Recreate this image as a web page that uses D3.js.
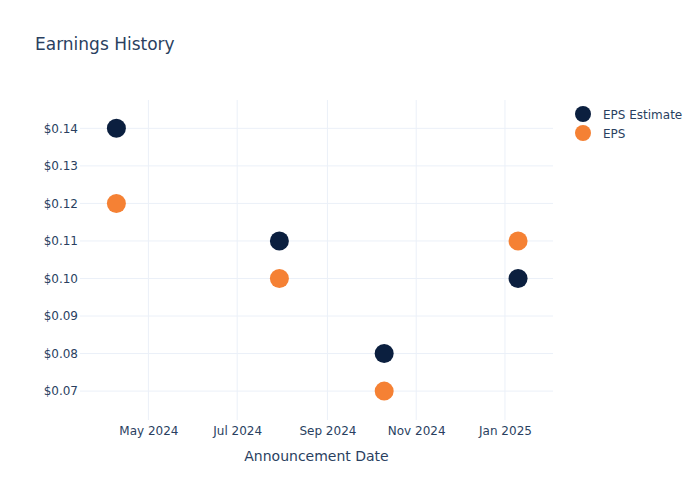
<!DOCTYPE html>
<html>
<head>
<meta charset="utf-8">
<script src="https://cdn.jsdelivr.net/npm/d3@7"></script>
<style>
  body { margin: 0; background: #fff; }
  text { font-family: "DejaVu Sans", sans-serif; fill: #2a3f5f; }
</style>
</head>
<body>
<svg id="chart" width="700" height="500"></svg>
<script>
// data
const dates = ["2024-04-09", "2024-07-30", "2024-10-10", "2025-01-10"];
const epsEstimate = [0.14, 0.11, 0.08, 0.10];
const eps = [0.12, 0.10, 0.07, 0.11];
const yTicks = [0.07, 0.08, 0.09, 0.10, 0.11, 0.12, 0.13, 0.14];
const xTicks = ["2024-05-01", "2024-07-01", "2024-09-01", "2024-11-01", "2025-01-01"];
const seriesNames = ["EPS Estimate", "EPS"];
const seriesColors = ["#0b1f3f", "#f58134"];

const parse = d3.utcParse("%Y-%m-%d");
let svg = d3.select("#chart");

let margin = {top: 100, right: 147, bottom: 80, left: 80};
let width = 700 - margin.left - margin.right;
let height = 500 - margin.top - margin.bottom;

let x = d3.scaleUtc()
  .domain([parse("2024-03-15"), parse("2025-02-03")])
  .range([margin.left, margin.left + width]);

let y = d3.scaleLinear()
  .domain([0.0623, 0.14755])
  .range([margin.top + height, margin.top]);

// grid
let grid = svg.append("g");
grid.selectAll(".hg")
  .data(yTicks)
  .enter()
  .append("line")
  .attr("x1", margin.left)
  .attr("x2", margin.left + width)
  .attr("y1", d => y(d))
  .attr("y2", d => y(d))
  .style("stroke", "#ebf0f8")
  .style("stroke-width", 1);
grid.selectAll(".vg")
  .data(xTicks)
  .enter()
  .append("line")
  .attr("x1", d => x(parse(d)))
  .attr("x2", d => x(parse(d)))
  .attr("y1", margin.top)
  .attr("y2", margin.top + height)
  .style("stroke", "#ebf0f8")
  .style("stroke-width", 1);

// y axis
let yAxis = svg.append("g")
  .attr("transform", "translate(" + margin.left + ",0)")
  .call(d3.axisLeft(y).tickValues(yTicks).tickSize(0).tickPadding(2)
    .tickFormat(d => "$" + d3.format(".2f")(d)));
yAxis.select(".domain").remove();
yAxis.selectAll("text").style("font-size", "12px").style("font-family", "DejaVu Sans").attr("fill", "#2a3f5f");

// x axis
let xAxis = svg.append("g")
  .attr("transform", "translate(0," + (margin.top + height) + ")")
  .call(d3.axisBottom(x).tickValues(xTicks.map(parse)).tickSize(0).tickPadding(6)
    .tickFormat(d3.utcFormat("%b %Y")));
xAxis.select(".domain").remove();
xAxis.selectAll("text").style("font-size", "12px").style("font-family", "DejaVu Sans").attr("fill", "#2a3f5f");

// points
let series = [epsEstimate, eps];
series.forEach(function(vals, s) {
  svg.selectAll(".pt" + s)
    .data(vals)
    .enter()
    .append("circle")
    .attr("cx", (d, i) => x(parse(dates[i])))
    .attr("cy", d => y(d))
    .attr("r", 9.5)
    .style("fill", seriesColors[s]);
});

// title
svg.append("text")
  .attr("x", 35)
  .attr("y", 50)
  .text("Earnings History")
  .style("font-size", "17px");

// axis title
svg.append("text")
  .attr("x", margin.left + width / 2)
  .attr("y", 461)
  .text("Announcement Date")
  .style("text-anchor", "middle")
  .style("font-size", "14px");

// legend
let legend = svg.append("g");
seriesNames.forEach(function(name, i) {
  legend.append("circle")
    .attr("cx", 583)
    .attr("cy", 114 + i * 19)
    .attr("r", 8)
    .style("fill", seriesColors[i]);
  legend.append("text")
    .attr("x", 603)
    .attr("y", 114 + i * 19 + 4.5)
    .text(name)
    .style("font-size", "12px");
});
</script>
</body>
</html>
